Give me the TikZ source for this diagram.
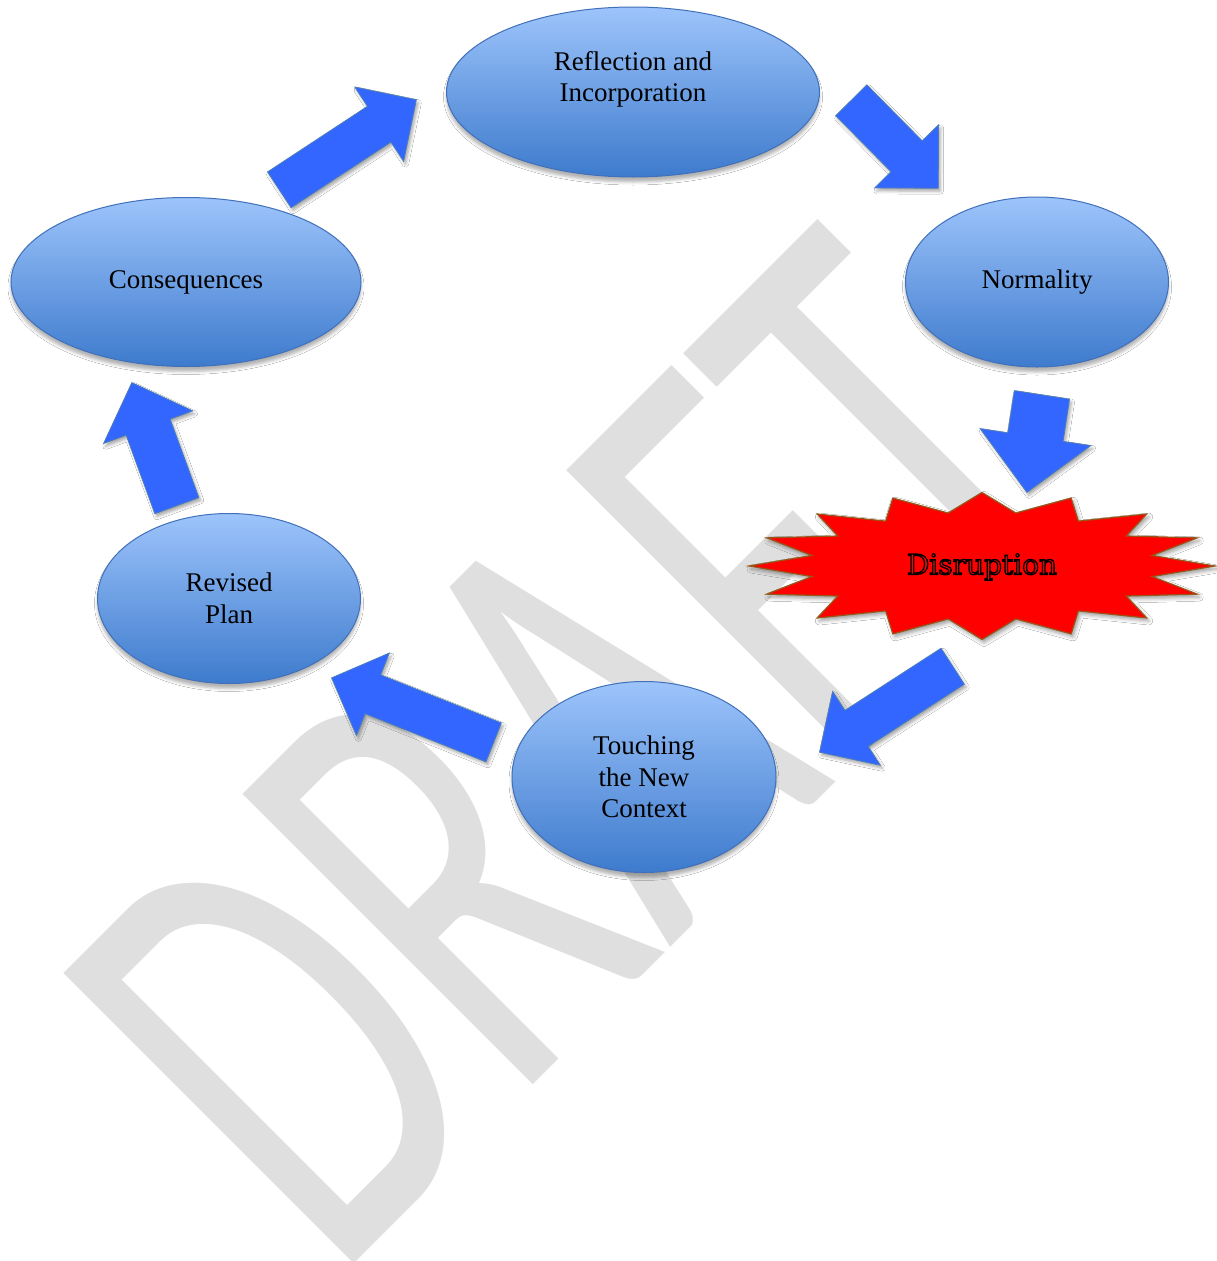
\documentclass[tikz,border=0pt]{standalone}
\usepackage{fontspec}
\setmainfont{Liberation Serif}
\newfontfamily\wmfont{Carlito}
\newfontfamily\disfont{DejaVu Serif}
\usetikzlibrary{shapes.geometric,shapes.arrows,calc,shadows.blur}

\definecolor{bubtop}{RGB}{157,196,251}
\definecolor{bubbot}{RGB}{62,123,205}
\definecolor{bubline}{RGB}{64,112,185}
\definecolor{arrfill}{RGB}{51,102,255}
\definecolor{arrline}{RGB}{74,126,187}
\definecolor{wmgray}{RGB}{223,223,223}
\definecolor{starline}{RGB}{152,86,24}

\newcommand\outlined[1]{\special{pdf:literal direct 2 Tr 1.3 w 0 0 0 RG}#1\special{pdf:literal direct 0 Tr}}

\tikzset{
  bubble/.style={ellipse, draw=bubline, line width=1pt, top color=bubtop, bottom color=bubbot,
    inner sep=0pt, align=center, text=black, font=\fontsize{27}{31.5}\selectfont,
    blur shadow={shadow xshift=0pt, shadow yshift=-5pt, shadow blur radius=3pt, shadow opacity=30}},
  barrow/.style={single arrow, draw=arrline, line width=0.8pt, fill=arrfill, inner xsep=0pt,
    minimum width=1pt, single arrow tip angle=90, anchor=tail,
    blur shadow={shadow xshift=2pt, shadow yshift=-3pt, shadow blur radius=3pt, shadow opacity=35}},
  starshape/.style={fill=red, draw=starline, line width=1.2pt,
    blur shadow={shadow xshift=2pt, shadow yshift=-3pt, shadow blur radius=4pt, shadow opacity=40}},
  watermark/.style={anchor=base west, inner sep=0pt, text=wmgray,
    font=\wmfont\fontsize{640}{640}\selectfont, rotate=45, xscale=0.64},
  distext/.style={inner sep=0pt, text=red, font=\disfont\fontsize{28}{32}\selectfont}
}

% #1 name, #2 tail coordinate, #3 tip coordinate, #4 half shaft width, #5 head extend
\newcommand\blockarrow[5]{%
  \path let \p1=(#2), \p2=(#3), \n1={atan2(\y2-\y1,\x2-\x1)}, \n2={veclen(\x2-\x1,\y2-\y1)} in
    node[barrow, rotate=\n1, minimum height=\n2, inner ysep=#4pt, single arrow head extend=#5pt]
      (#1) at (\p1) {};
}

\begin{document}
\begin{tikzpicture}[x=1pt,y=-1pt]
  \fill[white] (0,0) rectangle (1216,1261);
  \useasboundingbox (0,0) rectangle (1216,1261);

  % watermark
  \node[watermark] (wm) at (334,1284) {DRAFT};

  % arrow end points
  \coordinate (a1s) at (279,190);   \coordinate (a1e) at (416,100);
  \coordinate (a2s) at (851,100);   \coordinate (a2e) at (938,188);
  \coordinate (a3s) at (1042,394.5);\coordinate (a3e) at (1027,492);
  \coordinate (a4s) at (953,666);   \coordinate (a4e) at (820,752);
  \coordinate (a5s) at (494,742.5); \coordinate (a5e) at (332,678);
  \coordinate (a6s) at (177,506);   \coordinate (a6e) at (132,383);

  \blockarrow{a1}{a1s}{a1e}{21}{23}
  \blockarrow{a2}{a2s}{a2e}{21.5}{23}
  \blockarrow{a3}{a3s}{a3e}{27.5}{28}
  \blockarrow{a4}{a4s}{a4e}{21}{22.5}
  \blockarrow{a5}{a5s}{a5e}{20.5}{23.5}
  \blockarrow{a6}{a6s}{a6e}{23}{24}

  % ellipses
  \node[bubble, minimum width=373pt, minimum height=170pt] (refl) at (633,92)
    {Reflection and\\Incorporation\\\mbox{}};
  \node[bubble, minimum width=263pt, minimum height=170pt] (norm) at (1037,282) {Normality};
  \node[bubble, minimum width=350pt, minimum height=169pt] (cons) at (186,282) {Consequences};
  \node[bubble, minimum width=263pt, minimum height=170pt] (rev) at (229,598.5) {Revised\\Plan};
  \node[bubble, minimum width=264pt, minimum height=191pt] (touch) at (644,777)
    {Touching\\the New\\Context};

  % disruption starburst
  \draw[starshape, shift={(982,566)}]
    plot[variable=\k, samples at={0,...,31}]
      ({(233-59.5*mod(\k,2))*cos(\k*11.25)}, {(73.5-19.5*mod(\k,2))*sin(\k*11.25)}) -- cycle;
  \node[distext] (disr) at (982,567) {\outlined{Disruption}};
\end{tikzpicture}
\end{document}
